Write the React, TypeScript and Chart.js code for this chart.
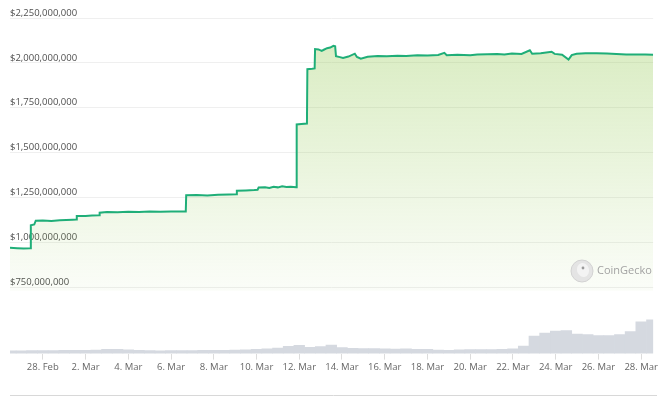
import React, { useEffect, useRef } from "react";
import { Chart, registerables } from "chart.js";

Chart.register(...registerables);

// x values are days counted from 26 Feb 00:00
const tickDays = [2, 4, 6, 8, 10, 12, 14, 16, 18, 20, 22, 24, 26, 28, 30];
const tickLabels = ["28. Feb", "2. Mar", "4. Mar", "6. Mar", "8. Mar", "10. Mar", "12. Mar", "14. Mar", "16. Mar", "18. Mar", "20. Mar", "22. Mar", "24. Mar", "26. Mar", "28. Mar"];

const priceTicks = [750, 1000, 1250, 1500, 1750, 2000, 2250]; // millions USD

const priceDays = [
  0.465, 0.8, 1.1, 1.42, 1.44, 1.6, 1.67, 2.0, 2.4, 2.8, 3.1, 3.4, 3.57, 3.59, 4.0, 4.3, 4.64, 4.66,
  5.0, 5.5, 6.0, 6.5, 7.0, 7.5, 8.0, 8.69, 8.71, 9.2, 9.7, 10.2, 10.7, 11.06, 11.08, 11.5, 11.9,
  12.05, 12.1, 12.4, 12.6, 12.8, 13.0, 13.2, 13.4, 13.6, 13.86, 13.88, 14.1, 14.36, 14.38, 14.6,
  14.72, 14.74, 14.9, 15.05, 15.15, 15.3, 15.45, 15.6, 15.68, 15.72, 15.9, 16.05, 16.3, 16.6, 16.7,
  16.88, 17.2, 17.67, 18.1, 18.6, 19.0, 19.53, 20.0, 20.5, 20.79, 20.9, 21.4, 22.0, 22.33, 22.8,
  23.26, 23.6, 23.95, 24.4, 24.79, 24.9, 25.3, 25.81, 25.95, 26.3, 26.6, 26.75, 26.98, 27.4, 27.91,
  28.4, 28.84, 29.3, 29.77, 30.2, 30.56,
];
const priceValues = [
  969, 967, 965, 966, 1095, 1099, 1120, 1121, 1119, 1122, 1124, 1126, 1127, 1146, 1147, 1149, 1150, 1165,
  1168, 1167, 1170, 1169, 1171, 1170, 1171, 1172, 1262, 1263, 1261, 1265, 1266, 1267, 1287, 1289, 1291,
  1293, 1305, 1307, 1303, 1309, 1306, 1312, 1308, 1310, 1307, 1657, 1659, 1662, 1965, 1967,
  1969, 2077, 2075, 2067, 2073, 2082, 2085, 2095, 2092, 2037, 2032, 2027, 2035, 2051, 2033,
  2023, 2034, 2038, 2037, 2040, 2038, 2043, 2041, 2044, 2056, 2043, 2045, 2043, 2046, 2048,
  2049, 2047, 2052, 2050, 2070, 2051, 2053, 2062, 2050, 2045, 2018, 2043, 2051, 2053, 2054,
  2052, 2049, 2047, 2046, 2047, 2045,
];

const volumeDays = [
  0.5, 1.0, 1.5, 2.0, 2.5, 3.0, 3.5, 4.0, 4.5, 5.0, 5.5, 6.0, 6.5, 7.0, 7.5, 8.0, 8.5, 9.0, 9.5, 10.0,
  10.5, 11.0, 11.5, 12.0, 12.5, 13.0, 13.5, 14.0, 14.5, 15.0, 15.5, 16.0, 16.5, 17.0, 17.5, 18.0, 18.5,
  19.0, 19.5, 20.0, 20.5, 21.0, 21.5, 22.0, 22.5, 23.0, 23.5, 24.0, 24.5, 25.0, 25.5, 26.0, 26.5, 27.0,
  27.5, 28.0, 28.5, 29.0, 29.5, 30.0, 30.5,
];
const volumeValues = [
  7, 7, 7.3, 7.5, 7.8, 8, 8.3, 8.5, 9, 10.5, 11, 9.5, 8, 7.3, 7, 7.3, 7.5, 7.8, 8, 8.3,
  8.3, 8.8, 9.5, 10.8, 12, 13.8, 18, 20.8, 15.5, 17.5, 21.3, 15, 13, 12.5, 12.8, 12, 11.5,
  11.8, 11, 10.5, 9, 8.5, 9.5, 10.3, 10, 9.8, 10.5, 12, 18.8, 43.8, 51.3, 56.3, 57.5, 48.8,
  47.5, 45, 45.5, 47.5, 55, 80, 85,
]; // millions USD

const overlayPlugin = {
  id: "overlay",
  afterDraw(chart: any) {
    const ctx = chart.ctx;
    const area = chart.chartArea;
    ctx.save();
    // bottom rule
    ctx.strokeStyle = "#d8d8d8";
    ctx.lineWidth = 1;
    ctx.beginPath();
    ctx.moveTo(area.left, 395.5);
    ctx.lineTo(chart.width - 3, 395.5);
    ctx.stroke();
    // CoinGecko watermark
    const cx = 582, cy = 271;
    ctx.beginPath();
    ctx.arc(cx, cy, 11, 0, Math.PI * 2);
    ctx.fillStyle = "#e4e4e4";
    ctx.fill();
    ctx.strokeStyle = "#d2d2d2";
    ctx.stroke();
    ctx.beginPath();
    ctx.ellipse(cx + 1, cy - 1, 6, 7, -0.3, 0, Math.PI * 2);
    ctx.fillStyle = "#f3f3f3";
    ctx.fill();
    ctx.beginPath();
    ctx.arc(cx + 1, cy - 3, 1.4, 0, Math.PI * 2);
    ctx.fillStyle = "#9a9a9a";
    ctx.fill();
    ctx.fillStyle = "#a3a3a3";
    ctx.font = "11px 'Open Sans'";
    ctx.textBaseline = "middle";
    ctx.textAlign = "left";
    ctx.fillText("CoinGecko", 597, 271);
    ctx.restore();
  },
};

export default function App() {
  const ref = useRef<HTMLCanvasElement | null>(null);

  useEffect(() => {
    const canvas = ref.current;
    if (!canvas) return;
    const chart = new Chart(canvas, {
      type: "line",
      data: {
        datasets: [
          {
            type: "line",
            label: "Price",
            data: priceDays.map((d, i) => ({ x: d, y: priceValues[i] * 1e6 })),
            borderColor: "#1fae78",
            borderWidth: 2,
            pointRadius: 0,
            tension: 0,
            yAxisID: "y",
            fill: { value: 730e6 },
            backgroundColor: (c: any) => {
              const a = c.chart.chartArea;
              if (!a) return "rgba(141,198,71,0.2)";
              const g = c.chart.ctx.createLinearGradient(0, 40, 0, 295);
              g.addColorStop(0, "rgba(141,198,71,0.33)");
              g.addColorStop(1, "rgba(141,198,71,0.03)");
              return g;
            },
            order: 1,
          } as any,
          {
            type: "bar",
            label: "Volume",
            data: volumeDays.map((d, i) => ({ x: d, y: volumeValues[i] })),
            backgroundColor: "#d5d9e0",
            borderWidth: 0,
            barPercentage: 1,
            categoryPercentage: 1,
            yAxisID: "yv",
            order: 2,
          } as any,
        ],
      },
      options: {
        animation: false,
        responsive: false,
        maintainAspectRatio: false,
        layout: { padding: { left: 10, right: 3, top: 18, bottom: 21 }, autoPadding: false } as any,
        plugins: { legend: { display: false }, tooltip: { enabled: false } },
        scales: {
          x: {
            type: "linear",
            min: 0.465,
            max: 30.56,
            offset: false,
            afterBuildTicks: (scale: any) => {
              scale.ticks = tickDays.map((v) => ({ value: v }));
            },
            grid: { offset: false, drawOnChartArea: false, drawTicks: true, tickLength: 6, color: "#dcdcdc" },
            border: { display: false },
            ticks: {
              autoSkip: false,
              maxRotation: 0,
              padding: 2,
              color: "#666666",
              font: { family: "'Open Sans'", size: 9.5 },
              callback: (v: any) => {
                const i = tickDays.indexOf(Number(v));
                return i >= 0 ? tickLabels[i] : "";
              },
            },
          },
          y: {
            type: "linear",
            position: "left",
            min: 379.4e6,
            max: 2250e6,
            afterBuildTicks: (scale: any) => {
              scale.ticks = priceTicks.map((v) => ({ value: v * 1e6 }));
            },
            grid: { drawTicks: false, color: "#efefef" },
            border: { display: false },
            ticks: {
              mirror: true,
              padding: 0,
              labelOffset: -5,
              color: "#4f4f4f",
              font: { family: "'Open Sans'", size: 9.5 },
              callback: (v: any) => "$" + Number(v).toLocaleString("en-US"),
            },
          },
          yv: {
            type: "linear",
            display: false,
            min: 0,
            max: 842,
          },
        },
      },
      plugins: [overlayPlugin],
    } as any);
    return () => chart.destroy();
  }, []);

  return (
    <div style={{ width: 660, height: 396, position: "absolute", left: 0, top: 0, background: "#fff" }}>
      <style>{`body{margin:0}`}</style>
      <canvas ref={ref} width={660} height={396} style={{ display: "block", width: 660, height: 396 }} />
    </div>
  );
}
